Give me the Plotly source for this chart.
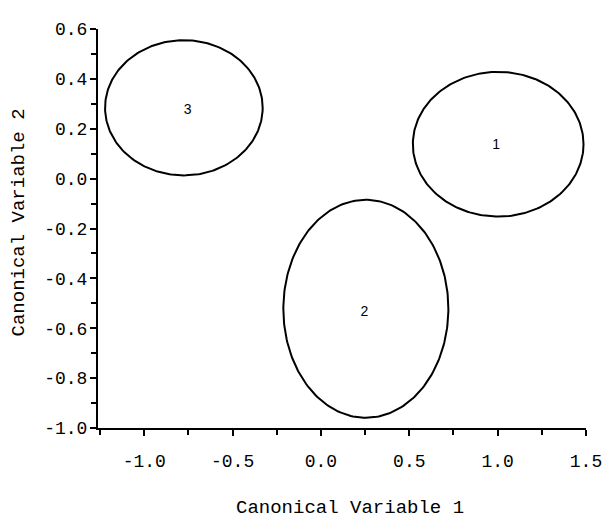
import numpy as np
import plotly.graph_objects as go

# Group ellipses (canonical variable space)
groups = ["1", "2", "3"]
center_x = [1.003, 0.254, -0.776]
center_y = [0.138, -0.522, 0.284]
radius_x = [0.483, 0.467, 0.446]
radius_y = [0.290, 0.437, 0.271]
label_x = [0.991, 0.246, -0.754]
label_y = [0.132, -0.536, 0.274]

x_tickvals = [-1.0, -0.5, 0.0, 0.5, 1.0, 1.5]
x_ticktext = ["-1.0", "-0.5", "0.0", "0.5", "1.0", "1.5"]
y_tickvals = [0.6, 0.4, 0.2, 0.0, -0.2, -0.4, -0.6, -0.8, -1.0]
y_ticktext = ["0.6", "0.4", "0.2", "0.0", "-0.2", "-0.4", "-0.6", "-0.8", "-1.0"]

mono = "Liberation Mono, Courier New, monospace"
fig = go.Figure()
t = np.linspace(0, 2 * np.pi, 241)
for g, cx, cy, rx, ry in zip(groups, center_x, center_y, radius_x, radius_y):
    fig.add_trace(go.Scatter(x=cx + rx * np.cos(t), y=cy + ry * np.sin(t), mode="lines",
                             line=dict(color="black", width=2), hoverinfo="skip", showlegend=False))
fig.add_trace(go.Scatter(x=label_x, y=label_y, mode="text", text=groups,
                         textfont=dict(family="Liberation Sans, Arial", size=14, color="black"),
                         showlegend=False))

axis_common = dict(showgrid=False, zeroline=False, showline=True, linecolor="black", linewidth=2,
                   ticks="outside", ticklen=6, tickwidth=2, tickcolor="black",
                   tickfont=dict(family=mono, size=18, color="black"))
fig.update_xaxes(range=[-1.262, 1.5], tickvals=x_tickvals, ticktext=x_ticktext,
                 ticklabelstandoff=9,
                 minor=dict(ticks="outside", ticklen=5, tickwidth=2, tickcolor="black", dtick=0.25, tick0=0),
                 **axis_common)
fig.update_yaxes(range=[-1.0, 0.6], tickvals=y_tickvals, ticktext=y_ticktext,
                 ticklabelstandoff=-1,
                 minor=dict(ticks="outside", ticklen=5, tickwidth=2, tickcolor="black", dtick=0.1, tick0=0),
                 **axis_common)
fig.add_annotation(text="Canonical Variable 1", xref="paper", yref="paper", x=0.516, y=-0.2,
                   showarrow=False, xanchor="center", yanchor="middle",
                   font=dict(family=mono, size=19, color="black"))
fig.add_annotation(text="Canonical Variable 2", xref="paper", xanchor="center", x=-0.162,
                   yref="paper", y=0.515, yanchor="middle",
                   showarrow=False, textangle=-90, font=dict(family=mono, size=19, color="black"))
fig.update_layout(width=616, height=520, margin=dict(l=90, r=38, t=12, b=100),
                  plot_bgcolor="white", paper_bgcolor="white")
fig.write_html("out.html")
